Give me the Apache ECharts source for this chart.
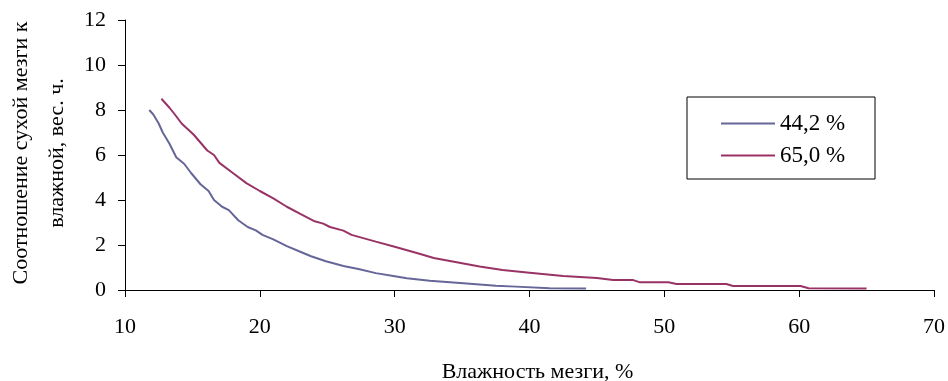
<!DOCTYPE html>
<html>
<head>
<meta charset="utf-8">
<script src="https://cdn.jsdelivr.net/npm/echarts@6/dist/echarts.min.js"></script>
<style>
  html, body { margin: 0; padding: 0; background: #fff; }
  #chart { width: 948px; height: 381px; }
</style>
</head>
<body>
<div id="chart"></div>
<script>
// названия серий
const seriesNames = ["44,2 %", "65,0 %"];

// 44,2 % : влажность мезги (x) и соотношение (y)
const moist44 = [11.8, 12.1, 12.5, 12.8, 13.3, 13.8, 14.4, 14.9, 15.6, 16.2, 16.6, 17.2, 17.7, 18.4, 19.1, 19.7, 20.2, 21.0, 22.0, 23.0, 23.8, 24.9, 26.2, 27.4, 28.6, 29.9, 30.9, 32.6, 35.1, 37.5, 39.0, 41.5, 44.2];
const ratio44 = [8.0, 7.8, 7.4, 7.0, 6.5, 5.9, 5.6, 5.2, 4.7, 4.4, 4.0, 3.7, 3.55, 3.1, 2.8, 2.65, 2.45, 2.25, 1.95, 1.7, 1.5, 1.28, 1.07, 0.92, 0.75, 0.62, 0.52, 0.41, 0.3, 0.19, 0.15, 0.08, 0.07];

// 65,0 %
const moist65 = [12.7, 13.3, 13.7, 14.2, 15.1, 16.1, 16.6, 17.0, 18.0, 19.0, 20.0, 21.0, 22.0, 23.0, 24.0, 24.7, 25.2, 26.2, 26.8, 28.6, 30.0, 31.9, 32.9, 34.6, 36.3, 38.0, 40.0, 42.5, 45.0, 46.2, 47.7, 48.2, 50.3, 50.9, 54.6, 55.1, 60.1, 60.7, 65.0];
const ratio65 = [8.5, 8.1, 7.8, 7.4, 6.9, 6.2, 6.0, 5.65, 5.2, 4.75, 4.4, 4.07, 3.7, 3.38, 3.07, 2.95, 2.8, 2.64, 2.45, 2.15, 1.92, 1.6, 1.42, 1.23, 1.04, 0.89, 0.77, 0.62, 0.53, 0.44, 0.44, 0.34, 0.34, 0.27, 0.27, 0.18, 0.18, 0.08, 0.07];

const font = "'Liberation Serif', 'Times New Roman', serif";

function zip(xs, ys) {
  return xs.map((x, i) => [x, ys[i]]);
}

const chart = echarts.init(document.getElementById("chart"));

chart.setOption({
  backgroundColor: "#fff",
  animation: false,
  grid: { left: 125, right: 14, top: 20, bottom: 91, containLabel: false, outerBoundsMode: "none" },
  legend: {
    orient: "vertical",
    left: 716,
    top: 107,
    itemWidth: 54,
    itemHeight: 2,
    itemGap: 9,
    icon: "rect",
    textStyle: { fontFamily: font, fontSize: 23, color: "#000" },
    data: seriesNames,
  },
  xAxis: {
    type: "value",
    min: 10,
    max: 70,
    interval: 10,
    name: "Влажность мезги, %",
    nameLocation: "middle",
    nameGap: 71,
    nameTextStyle: { fontFamily: font, fontSize: 22, color: "#000", padding: [0, 0, 0, 16] },
    axisLine: { lineStyle: { color: "#000", width: 1 } },
    axisTick: { length: 7, lineStyle: { color: "#000" } },
    axisLabel: { margin: 26, fontFamily: font, fontSize: 22, color: "#000" },
    splitLine: { show: false },
  },
  yAxis: {
    type: "value",
    min: 0,
    max: 12,
    interval: 2,
    axisLine: { show: true, lineStyle: { color: "#000", width: 1 } },
    axisTick: { show: true, length: 7, lineStyle: { color: "#000" } },
    axisLabel: { margin: 19, fontFamily: font, fontSize: 22, color: "#000" },
    splitLine: { show: false },
  },
  graphic: [
    {
      type: "text",
      x: 39,
      y: 153,
      rotation: Math.PI / 2,
      style: {
        text: "Соотношение сухой мезги к\nвлажной, вес. ч.",
        fontFamily: font,
        fontSize: 22,
        lineHeight: 36,
        fill: "#000",
        align: "center",
        verticalAlign: "middle",
      },
    },
    {
      type: "rect",
      shape: { x: 687, y: 97, width: 188, height: 82 },
      style: { fill: "none", stroke: "#000", lineWidth: 1 },
      z: 10,
    },
  ],
  series: [
    {
      name: seriesNames[0],
      type: "line",
      symbol: "none",
      lineStyle: { color: "#666699", width: 2 },
      itemStyle: { color: "#666699" },
      data: zip(moist44, ratio44),
    },
    {
      name: seriesNames[1],
      type: "line",
      symbol: "none",
      lineStyle: { color: "#993366", width: 2 },
      itemStyle: { color: "#993366" },
      data: zip(moist65, ratio65),
    },
  ],
});
</script>
</body>
</html>
